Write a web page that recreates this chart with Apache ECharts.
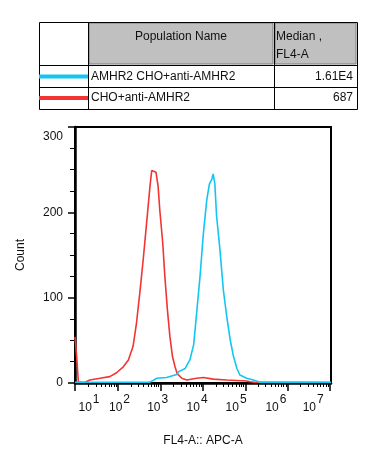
<!DOCTYPE html>
<html><head><meta charset="utf-8">
<script src="https://cdn.jsdelivr.net/npm/echarts@6/dist/echarts.min.js"></script>
<style>html,body{margin:0;padding:0;background:#fff}#c{width:387px;height:460px}</style>
</head><body><div id="c"></div>
<script>
// ---- data ----
const populations = ['AMHR2 CHO+anti-AMHR2', 'CHO+anti-AMHR2'];
const medians = ['1.61E4', '687'];
const seriesColors = ['#12c6f2', '#f23434'];
const xDecadeExponents = [1, 2, 3, 4, 5, 6, 7];
const yTickValues = [0, 100, 200, 300];
// x = display position in decades (logicle channel), y = count
const redX = [0.98, 1.02, 1.06, 1.21, 1.33, 1.57, 1.80, 1.96, 2.12, 2.24, 2.35, 2.43, 2.51, 2.59, 2.67, 2.75, 2.79, 2.83, 2.89, 2.94, 2.98, 3.05, 3.10, 3.16, 3.22, 3.28, 3.34, 3.39, 3.50, 3.62, 3.85, 4.01, 4.24, 4.56, 5.03, 5.11, 5.25, 7.02];
const redY = [54, 30, 1, 0.5, 3.5, 5.5, 7.5, 12, 19, 27, 43, 70, 106, 145, 188, 231, 249, 248, 247, 231, 203, 164, 125, 86, 54, 31, 19, 11, 5.5, 3.5, 5.5, 6.5, 4.5, 3.5, 2.4, 1.5, 0.5, 0.5];
const cyanX = [0.98, 2.70, 2.75, 2.91, 3.14, 3.38, 3.42, 3.58, 3.62, 3.69, 3.78, 3.85, 3.93, 4.01, 4.09, 4.15, 4.21, 4.24, 4.28, 4.32, 4.40, 4.48, 4.56, 4.64, 4.72, 4.80, 4.87, 5.03, 5.19, 5.34, 7.02];
const cyanY = [0.8, 0.8, 1, 5.5, 6.5, 10, 13, 17, 21, 27, 45, 82, 125, 176, 215, 233, 239, 245, 233, 196, 156, 109, 78, 51, 31, 17, 9.4, 5.5, 3.5, 1, 0.8];

// ---- layout ----
const X_MIN = 0.98, X_MAX = 7.02;
const labelPos = [1.31, 2.03, 2.93, 3.86, 4.78, 5.72, 6.6];
const majorTicks = [X_MIN, 2, 3, 4, 5, 6, 7];
const minorTicks = [];
for (let k = 1; k <= 6; k++) for (let m = 2; m <= 9; m++) minorTicks.push(k + Math.log10(m));

const font = 'Liberation Sans, Arial, sans-serif';
const chart = echarts.init(document.getElementById('c'), null, {renderer: 'canvas'});

function pair(xs, ys) { return xs.map((x, i) => [x, ys[i]]); }

const T = {x0: 39, x1: 88, x2: 274, x3: 357, y0: 22, y1: 65, y2: 87, y3: 109};
const graphics = [
  {type: 'rect', shape: {x: T.x1 + 1, y: T.y0 + 1, width: T.x2 - T.x1 - 2, height: T.y1 - T.y0 - 2}, style: {fill: '#c0c0c0', stroke: '#7a7a7a', lineWidth: 1}},
  {type: 'rect', shape: {x: T.x2 + 1, y: T.y0 + 1, width: T.x3 - T.x2 - 2, height: T.y1 - T.y0 - 2}, style: {fill: '#c0c0c0', stroke: '#7a7a7a', lineWidth: 1}},
  {type: 'rect', shape: {x: T.x0 + 0.5, y: T.y0 + 0.5, width: T.x3 - T.x0, height: T.y3 - T.y0}, style: {fill: 'none', stroke: '#000', lineWidth: 1}},
  {type: 'line', shape: {x1: T.x0, y1: T.y1 + 0.5, x2: T.x3, y2: T.y1 + 0.5}, style: {stroke: '#000', lineWidth: 1}},
  {type: 'line', shape: {x1: T.x0, y1: T.y2 + 0.5, x2: T.x3, y2: T.y2 + 0.5}, style: {stroke: '#000', lineWidth: 1}},
  {type: 'line', shape: {x1: T.x1 + 0.5, y1: T.y0, x2: T.x1 + 0.5, y2: T.y3}, style: {stroke: '#000', lineWidth: 1}},
  {type: 'line', shape: {x1: T.x2 + 0.5, y1: T.y0, x2: T.x2 + 0.5, y2: T.y3}, style: {stroke: '#000', lineWidth: 1}},
  {type: 'text', x: 181, y: 37, style: {text: 'Population Name', font: '12px ' + font, fill: '#111', align: 'center', verticalAlign: 'middle'}},
  {type: 'text', x: 276, y: 37, style: {text: 'Median ,', font: '12px ' + font, fill: '#111', align: 'left', verticalAlign: 'middle'}},
  {type: 'text', x: 276, y: 55, style: {text: 'FL4-A', font: '12px ' + font, fill: '#111', align: 'left', verticalAlign: 'middle'}}
];
const rowY = [76.5, 98];
populations.forEach((p, i) => {
  graphics.push({type: 'line', shape: {x1: T.x0, y1: rowY[i], x2: T.x1, y2: rowY[i]}, style: {stroke: seriesColors[i], lineWidth: 4}});
  graphics.push({type: 'text', x: 91, y: rowY[i], style: {text: p, font: '12px ' + font, fill: '#111', align: 'left', verticalAlign: 'middle'}});
  graphics.push({type: 'text', x: 353, y: rowY[i], style: {text: medians[i], font: '12px ' + font, fill: '#111', align: 'right', verticalAlign: 'middle'}});
});

chart.setOption({
  animation: false,
  backgroundColor: '#fff',
  textStyle: {fontFamily: font},
  grid: {left: 75, top: 127, right: 56, bottom: 77, show: true, borderColor: '#000', borderWidth: 2, containLabel: false},
  graphic: graphics,
  xAxis: [{
    type: 'value', min: X_MIN, max: X_MAX, position: 'bottom',
    name: 'FL4-A:: APC-A', nameLocation: 'middle', nameGap: 52,
    nameTextStyle: {fontSize: 12, color: '#111', fontFamily: font},
    axisLine: {show: true, onZero: false, lineStyle: {color: '#000', width: 2.5}},
    axisTick: {show: true, customValues: majorTicks, length: 8, lineStyle: {color: '#000', width: 1.5}},
    splitLine: {show: false},
    axisLabel: {
      customValues: labelPos, margin: 9, color: '#111',
      formatter: function (v) {
        let idx = 0, best = 1e9;
        labelPos.forEach((p, i) => { if (Math.abs(p - v) < best) { best = Math.abs(p - v); idx = i; } });
        return '{b|10}{s|' + xDecadeExponents[idx] + '}';
      },
      rich: {
        b: {fontSize: 12, fontFamily: font, color: '#111', padding: [10, 0, 0, 0]},
        s: {fontSize: 12, fontFamily: font, color: '#111', padding: [0, 0, 6, 1]}
      }
    }
  }, {
    type: 'value', min: X_MIN, max: X_MAX, position: 'bottom', gridIndex: 0,
    axisLine: {show: false, onZero: false},
    axisTick: {show: true, customValues: minorTicks, length: 4, lineStyle: {color: '#000', width: 1}},
    axisLabel: {show: false},
    splitLine: {show: false}
  }],
  yAxis: {
    type: 'value', min: 0, max: 300, interval: 100,
    name: 'Count', nameLocation: 'middle', nameGap: 48, nameRotate: 90,
    nameTextStyle: {fontSize: 12, color: '#111', fontFamily: font},
    axisLine: {show: true, onZero: false, lineStyle: {color: '#000', width: 2.5}},
    axisTick: {show: true, length: 7, lineStyle: {color: '#000', width: 1.5}},
    minorTick: {show: true, splitNumber: 4, length: 5, lineStyle: {color: '#000', width: 1}},
    splitLine: {show: false},
    axisLabel: {fontSize: 12, color: '#111', margin: 12, fontFamily: font,
      customValues: yTickValues,
      formatter: function (v) { return v === yTickValues[yTickValues.length - 1] ? '{t|' + v + '}' : '{n|' + v + '}'; },
      rich: {
        n: {fontSize: 12, fontFamily: font, color: '#111'},
        t: {fontSize: 12, fontFamily: font, color: '#111', padding: [20, 0, 0, 0]}
      }
    }
  },
  series: [
    {type: 'line', name: populations[1], data: pair(redX, redY), showSymbol: false, smooth: false,
     lineStyle: {color: seriesColors[1], width: 1.6}, itemStyle: {color: seriesColors[1]}, z: 2},
    {type: 'line', name: populations[0], data: pair(cyanX, cyanY), showSymbol: false, smooth: false,
     lineStyle: {color: seriesColors[0], width: 1.6}, itemStyle: {color: seriesColors[0]}, z: 3}
  ]
});
</script>
</body></html>
